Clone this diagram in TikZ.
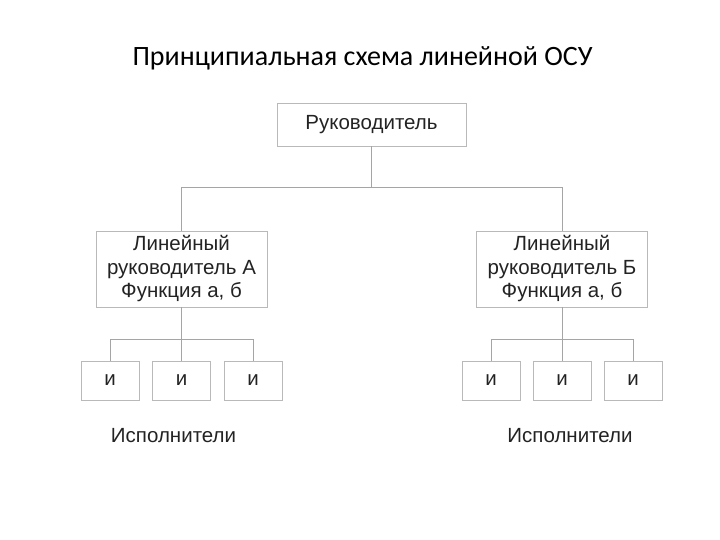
\documentclass[tikz,border=0pt]{standalone}
\usepackage{fontspec}
\setmainfont{Liberation Sans}
\newfontfamily\titlefont{Carlito}
\usetikzlibrary{positioning,calc}
\definecolor{osu-line}{RGB}{165,165,165}
\definecolor{osu-box}{RGB}{185,185,185}
\definecolor{osu-text}{RGB}{35,35,35}

\tikzset{
  box/.style={draw=osu-box, line width=0.9pt, fill=white, text=osu-text,
    align=center, inner sep=0pt, font=\fontsize{20.5}{23.5}\selectfont},
  link/.style={draw=osu-line, line width=0.9pt},
}

\begin{document}
\begin{tikzpicture}[x=1pt, y=-1pt]
  \useasboundingbox (0,0) rectangle (720,540);

  % Title
  \node[anchor=base, font=\titlefont\fontsize{28}{32}\selectfont, text=black, inner sep=0pt]
    (title) at (362.5,66) {Принципиальная схема линейной ОСУ};

  % Top manager
  \node[box, minimum width=189pt, minimum height=43pt] (boss) at (371.5,124.5) {Руководитель};

  % Line managers
  \node[box, minimum width=171pt, minimum height=76pt] (lineA) at (181.5,269)
    {Линейный\\руководитель А\\Функция а, б};
  \node[box, minimum width=171pt, minimum height=76pt] (lineB) at (562,269)
    {Линейный\\руководитель Б\\Функция а, б};

  % Executors
  \foreach \n/\x in {A1/110, A2/181.5, A3/253, B1/491, B2/562, B3/633}
    \node[box, minimum width=58pt, minimum height=39pt] (i\n) at (\x,380.5) {и};

  \node[text=osu-text, font=\fontsize{20.5}{23}\selectfont] (execA) at (173.5,436) {Исполнители};
  \node[text=osu-text, font=\fontsize{20.5}{23}\selectfont] (execB) at (570,436) {Исполнители};

  % Connectors
  \coordinate (busA) at (181.5,187);
  \coordinate (busB) at (562,187);
  \draw[link] (boss.south) |- (busA) -- (lineA.north);
  \draw[link] (boss.south) |- (busB) -- (lineB.north);

  \draw[link] (iA1.north) -- ++(0,-21) -| (iA3.north);
  \draw[link] (lineA.south) -- (iA2.north);
  \draw[link] (iB1.north) -- ++(0,-21) -| (iB3.north);
  \draw[link] (lineB.south) -- (iB2.north);
\end{tikzpicture}
\end{document}
